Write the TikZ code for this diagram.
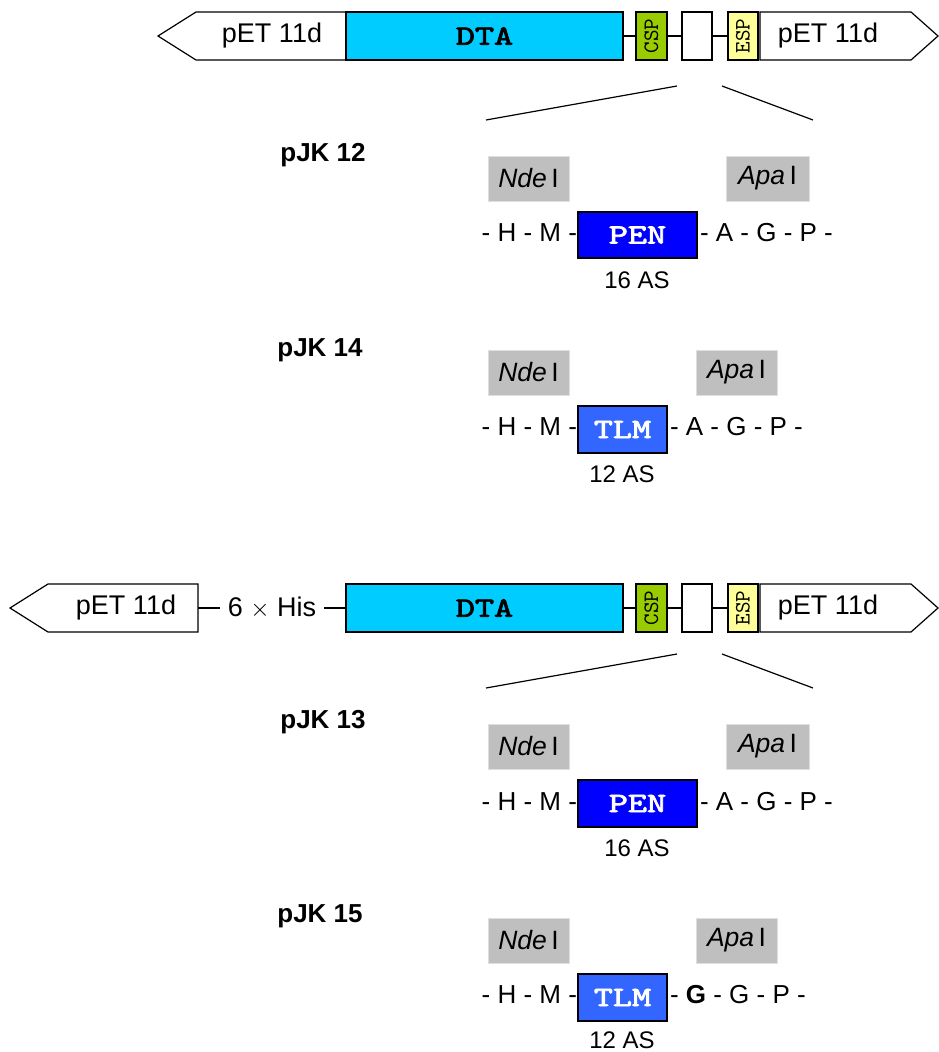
\documentclass[tikz,border=0pt]{standalone}
\usepackage{fontspec}
\setmainfont{Liberation Sans}
\newfontfamily\slab{lmmono10-regular.otf}
\newfontfamily\slabbold{lmmono10-regular.otf}[FakeBold=2.5]
\newcommand{\wide}[1]{\scalebox{1.3}[1]{#1}}
\begin{document}
\begin{tikzpicture}[x=1pt,y=-1pt,
  every node/.style={inner sep=0pt, outer sep=0pt},
  part/.style={draw=black, line width=1.2pt, minimum height=48pt},
  vector/.style={draw=black, line width=1.2pt, fill=white},
  link/.style={line width=1.2pt},
  zoomline/.style={line width=1.2pt},
  site/.style={draw=gray!25, line width=0.9pt, fill=gray!50, minimum width=81pt, minimum height=45pt, font=\fontsize{26.5}{30}\selectfont},
  insert/.style={draw=black, line width=1.2pt, minimum height=46pt, text=white, font=\slabbold\fontsize{28}{30}\selectfont},
  seq/.style={font=\fontsize{26}{30}\selectfont},
  plain/.style={font=\fontsize{27}{30}\selectfont},
  len/.style={font=\fontsize{24}{28}\selectfont},
  clone/.style={font=\bfseries\fontsize{26}{30}\selectfont},
  signal/.style={part, minimum width=30pt, font=\slab\fontsize{22}{24}\selectfont},
  gene/.style={part, fill=dtacol, minimum width=277pt, font=\slabbold\fontsize{28}{30}\selectfont},
]
\definecolor{dtacol}{HTML}{00CCFF}
\definecolor{pencol}{HTML}{0000FF}
\definecolor{tlmcol}{HTML}{3366FF}
\definecolor{cspcol}{HTML}{99CC00}
\definecolor{espcol}{HTML}{FFFF99}

\useasboundingbox (0,0) rectangle (938,1052);

% ---------- construct without His tag ----------
\draw[vector] (158,36) -- (196,12) -- (346,12) -- (346,60) -- (196,60) -- cycle;
\node[plain] (v1l) at (272,36) {pET 11d};
\node[gene] (dta1) at (484.5,36) {\wide{DTA}};
\node[signal, fill=cspcol, minimum width=31pt] (csp1) at (651.5,36) {\rotatebox{90}{CSP}};
\node[signal, fill=white] (gap1) at (697,36) {};
\node[signal, fill=espcol] (esp1) at (743,36) {\rotatebox{90}{ESP}};
\draw[vector] (760,12) -- (911,12) -- (938,36) -- (911,60) -- (760,60) -- cycle;
\node[plain] (v1r) at (828,36) {pET 11d};
\draw[link] (dta1.east) -- (csp1.west);
\draw[link] (csp1.east) -- (gap1.west);
\draw[link] (gap1.east) -- (esp1.west);

\coordinate (z1a) at (486,120);
\coordinate (z1b) at (677,86);
\coordinate (z1c) at (722,86);
\coordinate (z1d) at (813,120);
\draw[zoomline] (z1a) -- (z1b);
\draw[zoomline] (z1c) -- (z1d);

% pJK 12
\node[clone] (c12) at (323,155) {pJK 12};
\node[site] (nde12) at (528.5,178.5) {\itshape Nde\,\upshape I};
\node[site, minimum width=83pt] (apa12) at (767.5,178.5) {\itshape Apa\,\upshape I};
\node[insert, fill=pencol, minimum width=119pt] (pen12) at (637.5,235) {\wide{PEN}};
\node[seq, anchor=east] (l12) at ([xshift=-1pt,yshift=2pt]pen12.west) {- H - M -};
\node[seq, anchor=west] (r12) at ([xshift=3pt,yshift=2pt]pen12.east) {- A - G - P -};
\node[len] (n12) at (637,280) {16 AS};

% pJK 14
\node[clone] (c14) at (320,350) {pJK 14};
\node[site] (nde14) at (528.5,372.5) {\itshape Nde\,\upshape I};
\node[site] (apa14) at (736.5,372.5) {\itshape Apa\,\upshape I};
\node[insert, fill=tlmcol, minimum width=89pt, minimum height=47pt] (tlm14) at (622.5,429.5) {\wide{TLM}};
\node[seq, anchor=east] (l14) at ([xshift=-1pt,yshift=3pt]tlm14.west) {- H - M -};
\node[seq, anchor=west] (r14) at ([xshift=3pt,yshift=3pt]tlm14.east) {- A - G - P -};
\node[len] (n14) at (622,474) {12 AS};

% ---------- construct with His tag ----------
\draw[vector] (10,608) -- (48,584) -- (198,584) -- (198,632) -- (48,632) -- cycle;
\node[plain] (v2l) at (126,608) {pET 11d};
\coordinate (v2e) at (198,608);
\node[plain] (his) at (272,608) {6 $\times$ His};
\node[gene] (dta2) at (484.5,608) {\wide{DTA}};
\node[signal, fill=cspcol, minimum width=31pt] (csp2) at (651.5,608) {\rotatebox{90}{CSP}};
\node[signal, fill=white] (gap2) at (697,608) {};
\node[signal, fill=espcol] (esp2) at (743,608) {\rotatebox{90}{ESP}};
\draw[vector] (760,584) -- (911,584) -- (938,608) -- (911,632) -- (760,632) -- cycle;
\node[plain] (v2r) at (828,608) {pET 11d};
\draw[link] (v2e) -- ([xshift=-8pt]his.west);
\draw[link] ([xshift=8pt]his.east) -- (dta2.west);
\draw[link] (dta2.east) -- (csp2.west);
\draw[link] (csp2.east) -- (gap2.west);
\draw[link] (gap2.east) -- (esp2.west);

\coordinate (z2a) at (486,688);
\coordinate (z2b) at (677,654);
\coordinate (z2c) at (722,654);
\coordinate (z2d) at (813,688);
\draw[zoomline] (z2a) -- (z2b);
\draw[zoomline] (z2c) -- (z2d);

% pJK 13
\node[clone] (c13) at (323,722) {pJK 13};
\node[site] (nde13) at (528.5,746.5) {\itshape Nde\,\upshape I};
\node[site, minimum width=83pt] (apa13) at (767.5,746.5) {\itshape Apa\,\upshape I};
\node[insert, fill=pencol, minimum width=119pt, minimum height=47pt] (pen13) at (637.5,803.5) {\wide{PEN}};
\node[seq, anchor=east] (l13) at ([xshift=-1pt,yshift=2pt]pen13.west) {- H - M -};
\node[seq, anchor=west] (r13) at ([xshift=3pt,yshift=2pt]pen13.east) {- A - G - P -};
\node[len] (n13) at (637,848) {16 AS};

% pJK 15
\node[clone] (c15) at (320,916) {pJK 15};
\node[site] (nde15) at (528.5,940.5) {\itshape Nde\,\upshape I};
\node[site] (apa15) at (736.5,940.5) {\itshape Apa\,\upshape I};
\node[insert, fill=tlmcol, minimum width=89pt, minimum height=47pt] (tlm15) at (622.5,997.5) {\wide{TLM}};
\node[seq, anchor=east] (l15) at ([xshift=-1pt,yshift=3pt]tlm15.west) {- H - M -};
\node[seq, anchor=west] (r15) at ([xshift=3pt,yshift=3pt]tlm15.east) {- \textbf{G} - G - P -};
\node[len] (n15) at (622,1040) {12 AS};
\end{tikzpicture}
\end{document}
